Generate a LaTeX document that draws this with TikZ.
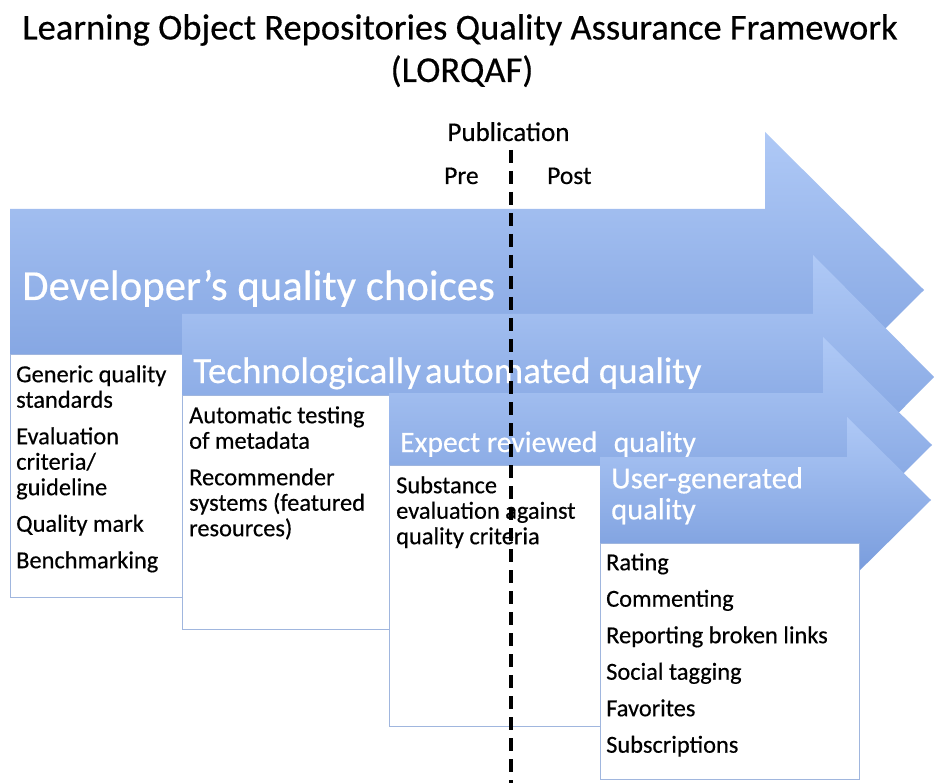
\documentclass[tikz,border=0pt]{standalone}
\usepackage{fontspec}
\setmainfont{Carlito}[FakeBold=0.4]
\definecolor{arrtop}{RGB}{175,201,246}
\definecolor{arrbot}{RGB}{117,153,219}
\definecolor{boxline}{RGB}{160,182,222}
\begin{document}
\begin{tikzpicture}[x=1pt,y=-1pt,
  arrowshape/.style={top color=arrtop,bottom color=arrbot,draw=none},
  listbox/.style={draw=boxline,line width=0.9pt,fill=white,inner sep=0pt,outer sep=0pt,anchor=north west},
  arrlabel/.style={text=white,inner sep=0pt,anchor=base west,align=left},
  listtext/.style={text=black,inner sep=0pt,anchor=north west,align=left,font=\fontsize{24.4}{25.5}\selectfont},
  plain/.style={text=black,inner sep=0pt,anchor=base},
  publine/.style={line width=3.4pt,dash pattern=on 13pt off 8pt}]
\useasboundingbox (0,0) rectangle (934,783);
\fill[white] (0,0) rectangle (934,783);

% title
\node[plain,font=\fontsize{36.5}{36.5}\selectfont] (title1) at (460,39.5) {Learning Object Repositories Quality Assurance Framework};
\node[plain,font=\fontsize{36.5}{36.5}\selectfont] (title2) at (462,82) {(LORQAF)};

% arrow 1
\path[arrowshape] (10,209) -- (765,209) -- (765,132) -- (924,290) -- (765,448) -- (765,371) -- (10,371) -- cycle;
\node[listbox,minimum width=172pt,minimum height=243pt] (box1) at (10,354) {};
% arrow 2
\path[arrowshape] (182,314) -- (813,314) -- (813,255) -- (934,377) -- (813,499) -- (813,440) -- (182,440) -- cycle;
\node[listbox,minimum width=207pt,minimum height=234pt] (box2) at (182,395) {};
% arrow 3
\path[arrowshape] (389,393) -- (823,393) -- (823,337) -- (932,445) -- (823,553) -- (823,497) -- (389,497) -- cycle;
\node[listbox,minimum width=211pt,minimum height=261pt] (box3) at (389,465) {};
% arrow 4
\path[arrowshape] (600,457) -- (847,457) -- (847,417) -- (931,500) -- (847,583) -- (847,543) -- (600,543) -- cycle;
\node[listbox,minimum width=259pt,minimum height=236pt] (box4) at (600,543) {};

% arrow labels
\node[arrlabel,font=\fontsize{42.8}{42.8}\selectfont] (lab1) at (22,300) {Developer’s quality choices};
\node[arrlabel,font=\fontsize{37}{37}\selectfont] (lab2) at (193,383) {Technologically\hspace{4pt}automated quality};
\node[arrlabel,font=\fontsize{29.6}{29.6}\selectfont] (lab3) at (400,452) {Expect reviewed\hspace{0.33em} quality};
\node[arrlabel,font=\fontsize{30.5}{31}\selectfont,anchor=north west] (lab4) at (611,467) {\rule{0pt}{20pt}User-generated\\quality};

% list texts
\node[listtext] (t1) at (16,364) {\rule{0pt}{18pt}Generic quality\\standards\\[11pt]Evaluation\\criteria/\\guideline\\[11pt]Quality mark\\[11pt]Benchmarking};
\node[listtext] (t2) at (189,405) {\rule{0pt}{18pt}Automatic testing\\of metadata\\[11pt]Recommender\\systems (featured\\resources)};
\node[listtext] (t3) at (396,475) {\rule{0pt}{18pt}Substance\\evaluation against\\quality criteria};
\node[listtext] (t4) at (606,552) {\rule{0pt}{18pt}Rating\\[11pt]Commenting\\[11pt]Reporting broken links\\[11pt]Social tagging\\[11pt]Favorites\\[11pt]Subscriptions};

% publication marker
\node[plain,font=\fontsize{27}{27}\selectfont] (pub) at (508.5,141) {Publication};
\node[plain,font=\fontsize{25.5}{25.5}\selectfont,anchor=base west] (pre) at (444,184) {Pre};
\node[plain,font=\fontsize{25.5}{25.5}\selectfont,anchor=base west] (post) at (547,184) {Post};
\coordinate (pubtop) at (511,150);
\coordinate (pubbot) at (511,783);
\draw[publine] (pubtop) -- (pubbot);
\end{tikzpicture}
\end{document}
